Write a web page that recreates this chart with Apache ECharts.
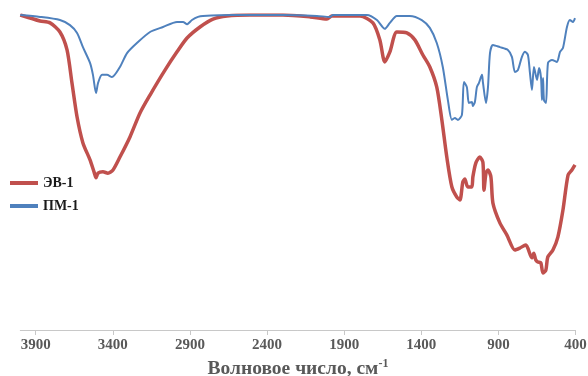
<!DOCTYPE html>
<html>
<head>
<meta charset="utf-8">
<script src="https://cdn.jsdelivr.net/npm/echarts@6/dist/echarts.min.js"></script>
<style>
  html, body { margin: 0; padding: 0; background: #ffffff; }
  #chart { width: 588px; height: 376px; }
</style>
</head>
<body>
<div id="chart"></div>
<script>
// IR spectra: wavenumber (cm^-1) and transmittance (%)
const wavenumbersEV = [4000, 3872, 3807, 3743, 3697, 3665, 3632, 3594, 3548, 3522, 3509, 3496, 3464, 3432, 3399, 3354, 3289, 3224, 3159, 3062, 2984, 2919, 2835, 2751, 2660, 2511, 2297, 2122, 2012, 1980, 1798, 1714, 1669, 1637, 1604, 1559, 1494, 1442, 1390, 1345, 1300, 1267, 1235, 1202, 1170, 1150, 1131, 1118, 1099, 1073, 1066, 1047, 1021, 1001, 994, 981, 968, 949, 936, 891, 846, 794, 762, 723, 710, 684, 671, 658, 645, 625, 612, 593, 580, 547, 515, 482, 449, 424, 404];
const transmittanceEV = [100, 98.1, 97.5, 94.6, 88.9, 78.4, 67.6, 59.4, 54.0, 50.2, 48.3, 49.8, 50.2, 49.8, 50.8, 54.9, 61.3, 68.9, 74.6, 82.5, 88.3, 92.7, 96.2, 98.7, 99.7, 100, 100, 99.4, 98.7, 99.7, 99.7, 97.5, 92.1, 85.1, 88.3, 94.6, 94.3, 92.1, 87.3, 83.5, 77.1, 66.7, 54.9, 45.4, 42.2, 41.3, 47.0, 47.9, 45.4, 45.4, 48.6, 53.0, 54.9, 53.3, 44.4, 49.8, 50.8, 48.6, 40.3, 34.0, 30.2, 25.4, 26.0, 27.0, 26.0, 22.9, 24.4, 22.2, 21.6, 21.3, 18.1, 19.0, 23.2, 25.4, 29.5, 38.1, 49.2, 50.8, 52.4];

const wavenumbersPM = [4000, 3872, 3743, 3678, 3632, 3594, 3548, 3529, 3509, 3496, 3470, 3438, 3406, 3354, 3308, 3244, 3159, 3075, 2984, 2945, 2919, 2887, 2848, 2816, 2621, 2297, 2077, 1993, 1973, 1753, 1688, 1637, 1604, 1559, 1475, 1397, 1345, 1300, 1261, 1228, 1202, 1183, 1163, 1137, 1124, 1105, 1092, 1072, 1066, 1053, 1040, 1027, 1007, 1001, 981, 968, 955, 936, 891, 839, 813, 793, 774, 748, 728, 709, 696, 683, 670, 650, 637, 624, 618, 611, 605, 592, 579, 553, 521, 501, 482, 456, 437, 417, 404];
const transmittancePM = [100, 99.4, 98.4, 96.8, 94.3, 89.8, 84.8, 81.0, 75.2, 78.4, 81.0, 81.0, 80.3, 83.5, 87.9, 91.1, 94.6, 96.2, 97.8, 97.8, 97.1, 98.4, 99.4, 99.7, 100, 100, 99.7, 99.4, 100, 100, 98.4, 95.6, 97.5, 99.7, 99.7, 98.4, 95.9, 91.1, 83.5, 73.0, 66.7, 67.3, 66.7, 68.3, 78.7, 77.1, 72.1, 72.4, 71.1, 72.4, 77.1, 78.4, 81.0, 78.7, 72.1, 77.1, 87.9, 90.5, 89.8, 88.9, 86.7, 81.9, 82.5, 86.7, 88.3, 87.3, 81.6, 76.2, 83.5, 79.4, 83.2, 80.0, 73.0, 80.0, 73.0, 72.1, 84.8, 85.7, 85.1, 88.3, 89.5, 96.2, 98.4, 97.8, 99.0];

const seriesNames = ['ЭВ-1', 'ПМ-1'];
const tickValues = [3900, 3400, 2900, 2400, 1900, 1400, 900, 400];
const axisTitle = 'Волновое число, см';
const axisTitleSup = '-1';

const pairs = (xs, ys) => xs.map((x, i) => [x, ys[i]]);
const serif = '"Liberation Serif", "Times New Roman", serif';

const chart = echarts.init(document.getElementById('chart'), null, { renderer: 'canvas' });
chart.setOption({
  animation: false,
  backgroundColor: '#ffffff',
  grid: { left: 20.3, right: 12.4, top: 15, bottom: 46, outerBoundsMode: 'none', containLabel: false },
  legend: {
    orient: 'vertical',
    left: 5,
    top: 171,
    icon: 'rect',
    itemWidth: 28,
    itemHeight: 4,
    itemGap: 9,
    textStyle: { fontFamily: serif, fontWeight: 'bold', fontSize: 14, lineHeight: 14, color: '#1a1a1a' },
    data: seriesNames
  },
  xAxis: {
    type: 'value',
    inverse: true,
    min: 400,
    max: 4000,
    splitLine: { show: false },
    axisLine: { show: true, lineStyle: { color: '#c8c8c8', width: 1 } },
    axisTick: { show: true, customValues: tickValues, length: 5, lineStyle: { color: '#c8c8c8' } },
    axisLabel: {
      customValues: tickValues,
      formatter: (v) => String(v),
      margin: 8,
      fontFamily: serif,
      fontWeight: 'bold',
      fontSize: 15,
      color: '#595959'
    },
    name: '{t|' + axisTitle + '}{s|' + axisTitleSup + '}',
    nameLocation: 'middle',
    nameGap: 24,
    nameTextStyle: {
      rich: {
        t: { fontFamily: serif, fontWeight: 'bold', fontSize: 19.5, color: '#595959', lineHeight: 22 },
        s: { fontFamily: serif, fontWeight: 'bold', fontSize: 12, color: '#595959', verticalAlign: 'top', lineHeight: 22, padding: [0, 0, 8, 0] }
      }
    }
  },
  yAxis: {
    type: 'value',
    min: 0,
    max: 100,
    show: false
  },
  series: [
    {
      name: seriesNames[0],
      type: 'line',
      symbol: 'none',
      smooth: 0.25,
      data: pairs(wavenumbersEV, transmittanceEV),
      lineStyle: { color: '#C0504D', width: 3.5 },
      itemStyle: { color: '#C0504D' },
      z: 2
    },
    {
      name: seriesNames[1],
      type: 'line',
      symbol: 'none',
      smooth: 0.25,
      data: pairs(wavenumbersPM, transmittancePM),
      lineStyle: { color: '#4F81BD', width: 2 },
      itemStyle: { color: '#4F81BD' },
      z: 3
    }
  ]
});
</script>
</body>
</html>
